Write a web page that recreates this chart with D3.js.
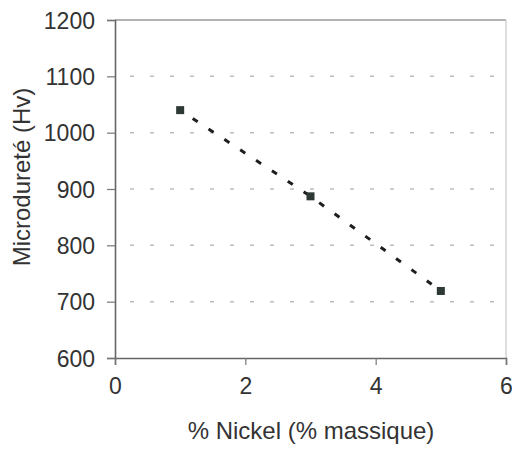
<!DOCTYPE html>
<html><head><meta charset="utf-8">
<script src="https://cdn.jsdelivr.net/npm/d3@7"></script>
<style>
html,body{margin:0;padding:0;background:#fff;}
text{font-family:"Liberation Sans",Arial,sans-serif;fill:#333;}
</style></head>
<body><svg id="c" width="512" height="451"></svg>
<script>
const nickel = [1, 3, 5];
const hardness = [1040, 887, 719];
const xTicks = [0, 2, 4, 6];
const yTicks = [600, 700, 800, 900, 1000, 1100, 1200];
const gridValues = [700, 800, 900, 1000, 1100];
const xTitle = "% Nickel (% massique)";
const yTitle = "Microdureté (Hv)";

const svg = d3.select("#c");
const m = {l:115, t:20, r:506, b:358};
const x = d3.scaleLinear().domain([0,6]).range([m.l, m.r]);
const y = d3.scaleLinear().domain([600,1200]).range([m.b, m.t]);

// gridlines
svg.append("g").selectAll("line").data(gridValues).join("line")
  .attr("x1", m.l + 1).attr("x2", m.r)
  .attr("y1", d => y(d)).attr("y2", d => y(d))
  .attr("stroke", "#bdbdbd").attr("stroke-width", 1.5)
  .attr("stroke-dasharray", "4,16").attr("stroke-dashoffset", -14);

// top & right border
svg.append("line").attr("x1", m.l).attr("x2", m.r).attr("y1", m.t).attr("y2", m.t)
  .attr("stroke", "#9a9a9a").attr("stroke-width", 1.5);
svg.append("line").attr("x1", m.r).attr("x2", m.r).attr("y1", m.t).attr("y2", m.b)
  .attr("stroke", "#c8c8c8").attr("stroke-width", 1.2);

// axes
const yAxis = svg.append("g").attr("transform", `translate(${m.l},0)`)
  .call(d3.axisLeft(y).tickValues(yTicks).tickSize(8).tickPadding(12).tickFormat(d3.format("d")));
const xAxis = svg.append("g").attr("transform", `translate(0,${m.b})`)
  .call(d3.axisBottom(x).tickValues(xTicks).tickSize(7).tickPadding(13).tickFormat(d3.format("d")));
[xAxis, yAxis].forEach(a => {
  a.select(".domain").attr("stroke", "#666").attr("stroke-width", 1.6);
  a.selectAll(".tick line").attr("stroke", "#777").attr("stroke-width", 1.2);
  a.selectAll("text").style("font-size", "23px").attr("fill", "#333");
});
yAxis.selectAll("text").attr("dy", "0.35em");
xAxis.selectAll("text").attr("dy", "0.71em");

// dashed trend line
const line = d3.line().x((d,i) => x(nickel[i])).y(d => y(d));
svg.append("path").datum(hardness).attr("d", line)
  .attr("fill", "none").attr("stroke", "#1e1e1e").attr("stroke-width", 3)
  .attr("stroke-dasharray", "6,13").attr("stroke-dashoffset", -15);

// markers
svg.append("g").selectAll("rect").data(hardness).join("rect")
  .attr("x", (d,i) => x(nickel[i]) - 4).attr("y", d => y(d) - 4)
  .attr("width", 8).attr("height", 8).attr("fill", "#2e3834");

// titles
svg.append("text").attr("x", 311).attr("y", 439).attr("text-anchor", "middle")
  .style("font-size", "24px").text(xTitle);
svg.append("text").attr("transform", "translate(30,177) rotate(-90)").attr("text-anchor", "middle")
  .style("font-size", "24px").text(yTitle);
</script></body></html>
